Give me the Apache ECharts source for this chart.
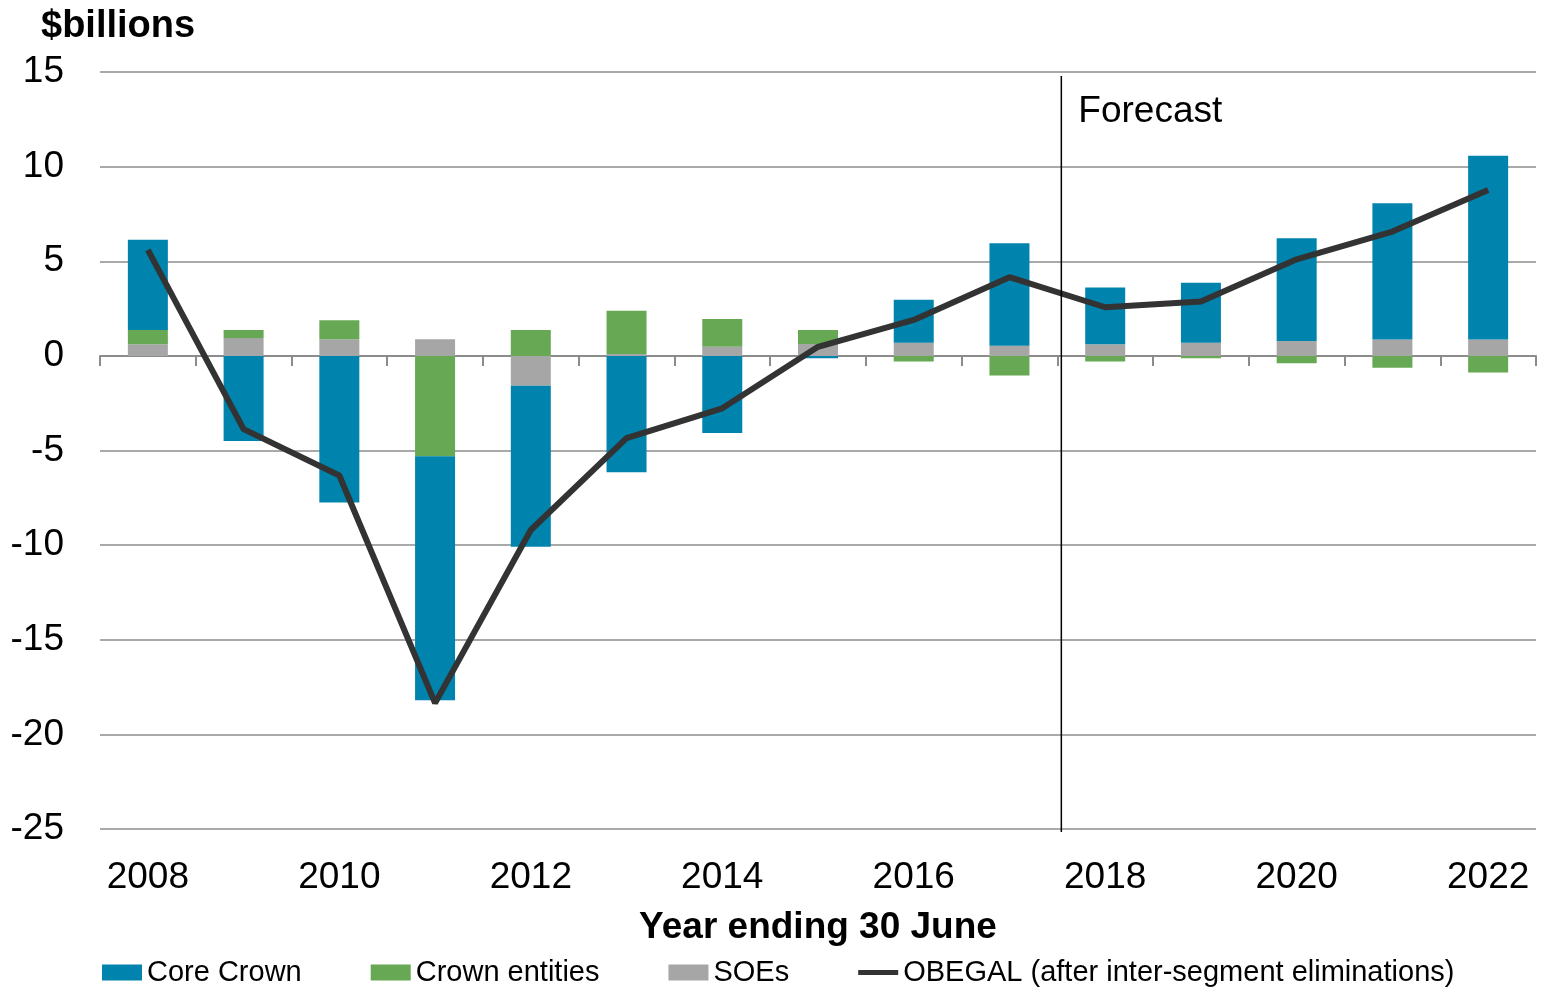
<!DOCTYPE html>
<html style="height: 100%">
   <head>
       <meta charset="utf-8">
       <script src="https://cdn.jsdelivr.net/npm/echarts@6/dist/echarts.min.js"></script>
       <title>OBEGAL by segment</title>
   </head>
   <body style="height: 100%; margin: 0; background: #fff">
       <div id="container" style="width: 1542px; height: 987px"></div>
       <script type="text/javascript">

let years = ['2008','2009','2010','2011','2012','2013','2014','2015','2016','2017','2018','2019','2020','2021','2022'];
let coreCrown = [4.76, -4.5, -7.75, -12.9, -8.5, -6.15, -4.07, -0.12, 2.26, 5.42, 2.99, 3.17, 5.43, 7.21, 9.71];
let crownEntities = [0.75, 0.42, 1.0, -5.3, 1.37, 2.28, 1.47, 0.74, -0.3, -1.04, -0.3, -0.12, -0.39, -0.63, -0.88];
let soes = [0.62, 0.95, 0.88, 0.88, -1.58, 0.1, 0.48, 0.63, 0.7, 0.53, 0.62, 0.7, 0.79, 0.86, 0.86];
let obegal = [5.6, -3.87, -6.32, -18.35, -9.2, -4.35, -2.77, 0.48, 1.9, 4.16, 2.57, 2.87, 5.1, 6.57, 8.77];

let font = "'Liberation Sans', Arial, sans-serif";
let dom = document.getElementById("container");
let chart = echarts.init(dom);

chart.setOption({
    animation: false,
    textStyle: {fontFamily: font},
    title: {
        text: '$billions',
        left: 36, top: 3,
        textStyle: {fontSize: 38, fontWeight: 'bold', color: '#000', fontFamily: font}
    },
    legend: {
        left: 97, top: 953,
        itemWidth: 40, itemHeight: 16, itemGap: 69,
        textStyle: {fontSize: 29, color: '#000', fontFamily: font},
        data: [
            {name: 'Core Crown', icon: 'rect'},
            {name: 'Crown entities', icon: 'rect'},
            {name: 'SOEs', icon: 'rect'},
            // thick dash, padded box so it sits mid-height
            {name: 'OBEGAL (after inter-segment eliminations)',
             icon: 'path://M0,0 M0,16 M0,5.5 L40,5.5 L40,10.5 L0,10.5 Z'}
        ]
    },
    grid: {left: 100, right: 6, top: 72, bottom: 158},
    xAxis: [
        {
            type: 'category',
            data: years,
            position: 'bottom',
            axisLine: {show: false, onZero: false},
            axisTick: {show: false},
            axisLabel: {interval: 1, fontSize: 37, color: '#000', margin: 30, fontFamily: font},
            name: 'Year ending 30 June',
            nameLocation: 'middle',
            nameGap: 80,
            nameTextStyle: {fontSize: 37, fontWeight: 'bold', color: '#000', fontFamily: font}
        },
        {
            type: 'category',
            data: years,
            position: 'top',
            axisLine: {onZero: true, lineStyle: {color: '#8c8c8c', width: 2}},
            axisTick: {show: true, inside: true, interval: 0, length: 10, lineStyle: {color: '#8c8c8c', width: 2}},
            axisLabel: {show: false}
        }
    ],
    yAxis: {
        type: 'value',
        min: -25, max: 15, interval: 5,
        axisLine: {show: false},
        axisTick: {show: false},
        axisLabel: {fontSize: 37, color: '#000', margin: 36, fontFamily: font},
        splitLine: {lineStyle: {color: '#8c8c8c', width: 1.5}}
    },
    series: [
        {name: 'SOEs', type: 'bar', stack: 'seg', data: soes, barWidth: 40,
         itemStyle: {color: '#a6a6a6'}},
        {name: 'Crown entities', type: 'bar', stack: 'seg', data: crownEntities, barWidth: 40,
         itemStyle: {color: '#66a853'}},
        {name: 'Core Crown', type: 'bar', stack: 'seg', data: coreCrown, barWidth: 40,
         itemStyle: {color: '#0083ad'}},
        {name: 'OBEGAL (after inter-segment eliminations)', type: 'line', data: obegal,
         symbol: 'none', z: 5,
         itemStyle: {color: '#333333'},
         lineStyle: {color: '#333333', width: 6}}
    ]
});

// forecast divider between 2017 and 2018
let x17 = chart.convertToPixel({xAxisIndex: 0}, '2017');
let x18 = chart.convertToPixel({xAxisIndex: 0}, '2018');
let xf = (x17 + x18) / 2 + 4;
let yTop = chart.convertToPixel({yAxisIndex: 0}, 15) + 4;
let yBot = chart.convertToPixel({yAxisIndex: 0}, -25) + 3;
chart.setOption({
    graphic: [
        {type: 'line', shape: {x1: xf, y1: yTop, x2: xf, y2: yBot},
         style: {stroke: '#000', lineWidth: 1.5}, z: 10},
        {type: 'text', left: xf + 17, top: yTop + 17,
         style: {text: 'Forecast', fontSize: 37, fill: '#000', fontFamily: font}}
    ]
});

       </script>
   </body>
</html>
